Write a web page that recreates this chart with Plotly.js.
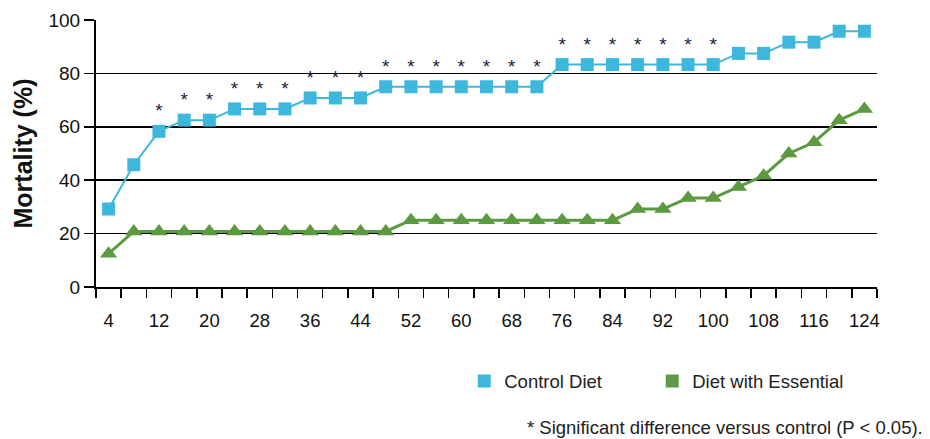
<!DOCTYPE html>
<html>
<head>
<meta charset="utf-8">
<script src="https://cdn.plot.ly/plotly-3.0.1.min.js"></script>
<style>html,body{margin:0;padding:0;background:#fff;}#chart{width:930px;height:439px;}</style>
</head>
<body>
<div id="chart"></div>
<script>
const days = [4,8,12,16,20,24,28,32,36,40,44,48,52,56,60,64,68,72,76,80,84,88,92,96,100,104,108,112,116,120,124];
const controlDiet = [29.2,45.8,58.3,62.5,62.5,66.7,66.7,66.7,70.8,70.8,70.8,75,75,75,75,75,75,75,83.3,83.3,83.3,83.3,83.3,83.3,83.3,87.5,87.5,91.7,91.7,95.8,95.8];
const essentialDiet = [12.5,20.8,20.8,20.8,20.8,20.8,20.8,20.8,20.8,20.8,20.8,20.8,25,25,25,25,25,25,25,25,25,29.2,29.2,33.3,33.3,37.5,41.7,50,54.2,62.5,66.7];
const significant = [0,0,1,1,1,1,1,1,1,1,1,1,1,1,1,1,1,1,1,1,1,1,1,1,1,0,0,0,0,0,0];
const xTickLabels = [4,12,20,28,36,44,52,60,68,76,84,92,100,108,116,124];
const xBoundaries = [2,6,10,14,18,22,26,30,34,38,42,46,50,54,58,62,66,70,74,78,82,86,90,94,98,102,106,110,114,118,122,126];
const yTicks = [0,20,40,60,80,100];

const blue = '#3db7dc';
const green = '#5c9a3f';
const font = 'Liberation Sans, Arial, sans-serif';

const traces = [
  {
    x: days, y: essentialDiet, type: 'scatter', mode: 'lines+markers',
    line: {color: green, width: 3},
    marker: {symbol: 'triangle-up', size: 15, color: green},
    showlegend: false, hoverinfo: 'x+y'
  },
  {
    x: days, y: controlDiet, type: 'scatter', mode: 'lines+markers+text',
    line: {color: blue, width: 2},
    marker: {symbol: 'square', size: 13, color: blue},
    text: significant.map(s => s ? '*' : ''),
    textposition: 'top center',
    textfont: {family: font, size: 19, color: '#1b1b3a'},
    showlegend: false, hoverinfo: 'x+y'
  },
  {
    x: [null], y: [null], type: 'scatter', mode: 'markers', name: 'Control Diet',
    marker: {symbol: 'square', size: 13, color: blue}, legend: 'legend'
  },
  {
    x: [null], y: [null], type: 'scatter', mode: 'markers', name: 'Diet with Essential',
    marker: {symbol: 'square', size: 13, color: '#5f9a4a'}, legend: 'legend2'
  }
];

const legendStyle = {
  orientation: 'h', y: -0.283, xanchor: 'left', yanchor: 'top',
  font: {size: 18.5, color: '#222'}, itemwidth: 30, bgcolor: 'rgba(0,0,0,0)'
};

const layout = {
  width: 930, height: 439,
  margin: {l: 96, r: 53, t: 20, b: 152, autoexpand: false},
  paper_bgcolor: '#fff', plot_bgcolor: '#fff',
  font: {family: font, color: '#111'},
  xaxis: {
    type: 'linear', range: [2, 126], automargin: false,
    tickmode: 'array', tickvals: xTickLabels, ticktext: xTickLabels.map(String),
    ticks: '', tickfont: {size: 18.5, color: '#111'}, ticklabelstandoff: 16,
    minor: {tickmode: 'array', tickvals: xBoundaries, ticks: 'outside', ticklen: 9, tickwidth: 1.5, tickcolor: '#000', showgrid: false},
    showline: true, linecolor: '#000', linewidth: 2,
    showgrid: false, zeroline: false, fixedrange: true
  },
  yaxis: {
    range: [0, 100], tickmode: 'array', tickvals: yTicks, automargin: false,
    ticks: 'outside', ticklen: 10, tickwidth: 1.5, tickcolor: '#000',
    tickfont: {size: 19, color: '#111'},
    showgrid: true, gridcolor: '#000', gridwidth: 1.5,
    showline: true, linecolor: '#000', linewidth: 2, zeroline: false,
    title: {text: '<b>Mortality (%)</b>', font: {size: 25, color: '#111'}, standoff: 9},
    fixedrange: true
  },
  legend: Object.assign({}, legendStyle, {x: 0.4715}),
  legend2: Object.assign({}, legendStyle, {x: 0.7122}),
  annotations: [{
    xref: 'paper', yref: 'paper', x: 1.062, y: -0.525, xanchor: 'right', yanchor: 'middle',
    text: '* Significant difference versus control (P < 0.05).',
    showarrow: false, font: {size: 18.5, color: '#222'}
  }]
};

Plotly.newPlot('chart', traces, layout, {displayModeBar: false, staticPlot: true});
</script>
</body>
</html>
